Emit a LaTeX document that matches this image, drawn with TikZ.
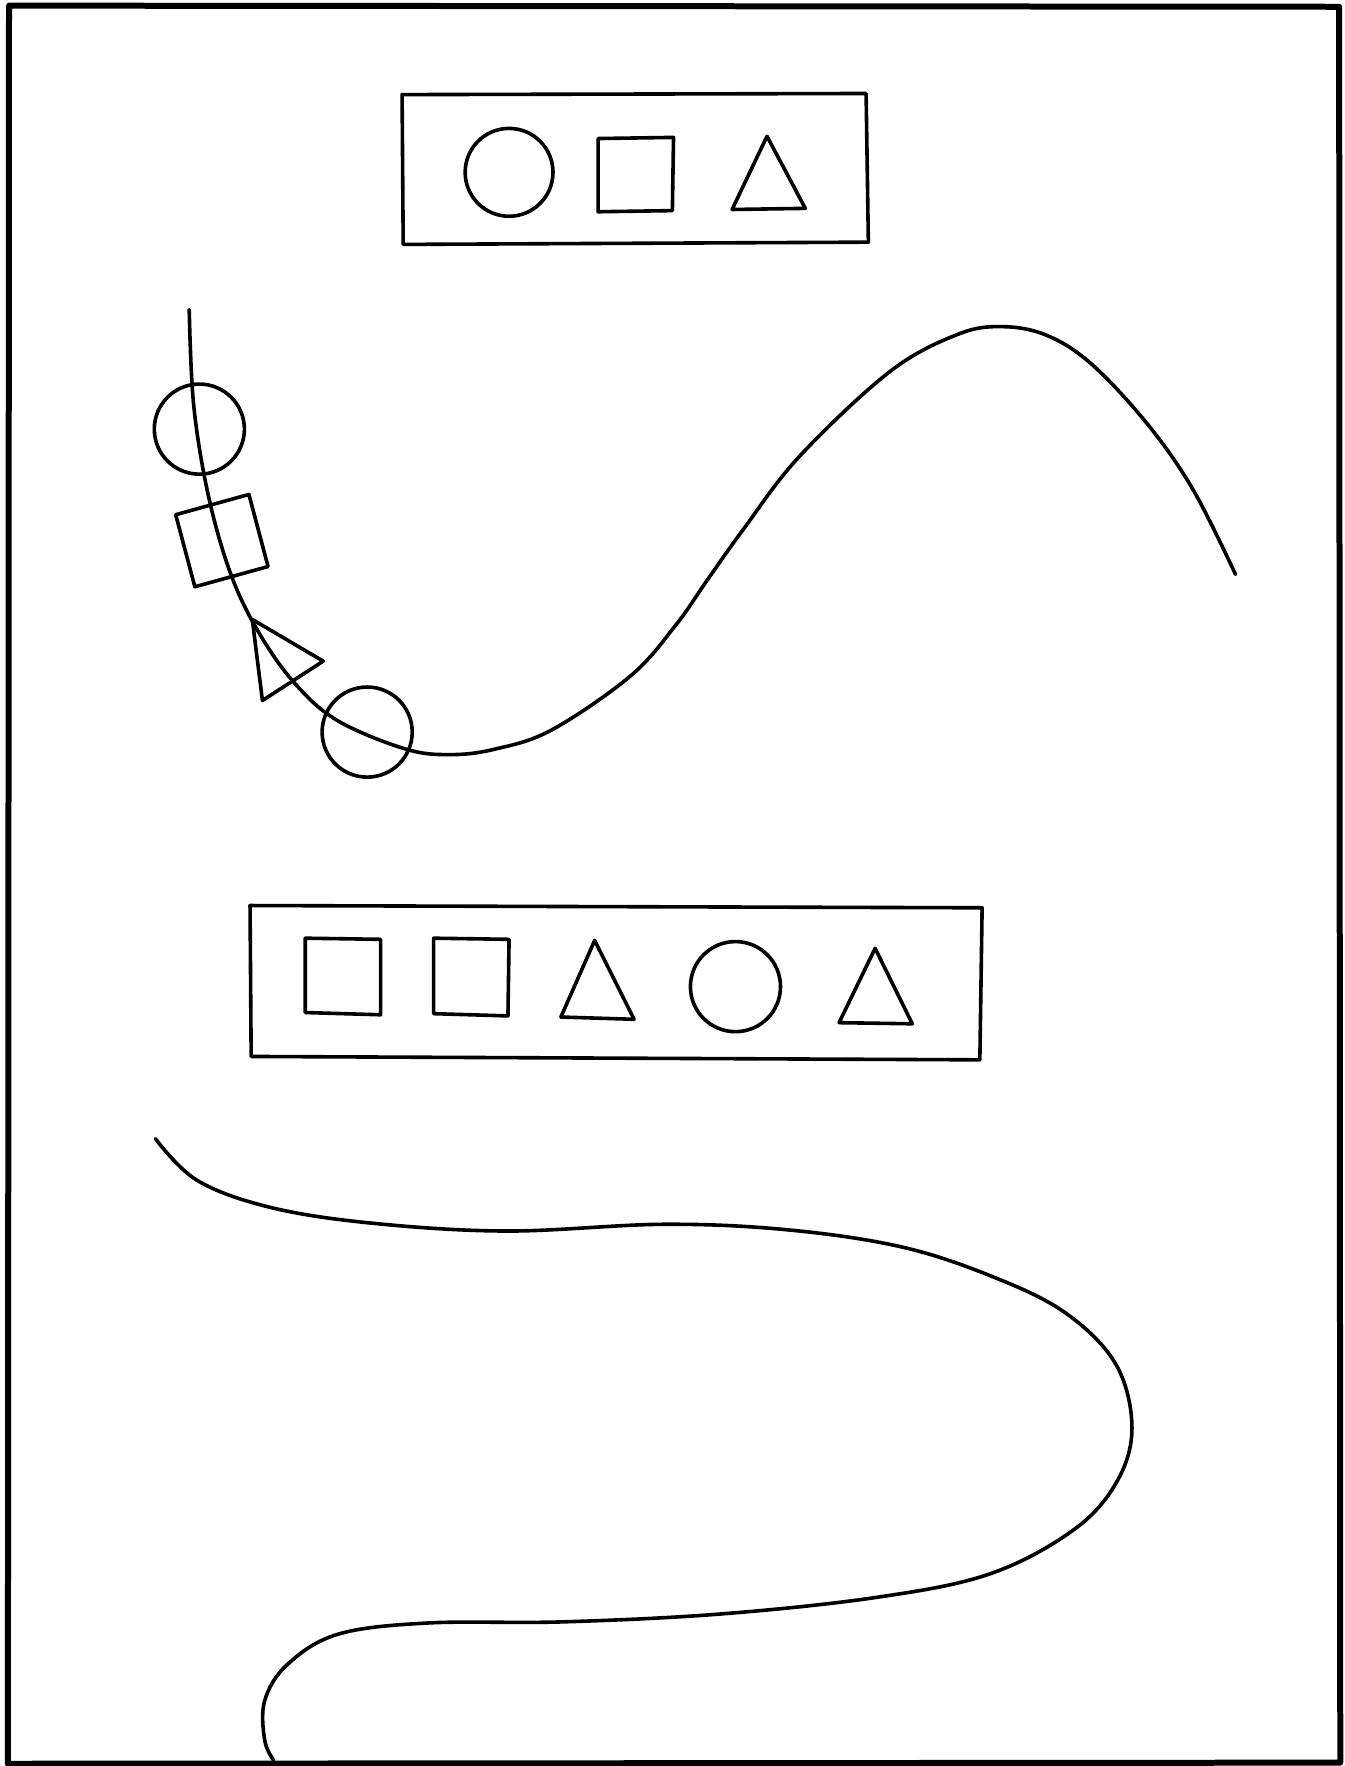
\documentclass[tikz,border=0pt]{standalone}
\begin{document}
\begin{tikzpicture}[x=1.1265pt,y=-1.1265pt,line join=round,line cap=round,
  ln/.style={line width=3.6pt},
  frame/.style={line width=6pt}]
\useasboundingbox (0,0) rectangle (1194,1568);
\fill[white] (0,0) rectangle (1194,1568);
\draw[frame] (8,5) -- (1189,6) -- (1190,1565) -- (7,1566) -- cycle;
% top box
\draw[ln] (357,84) -- (769,83) -- (771,215) -- (358,217) -- cycle;
\draw[ln] (452,153) circle[radius=39];
\draw[ln] (531,123) -- (598,122) -- (597,187) -- (531,188) -- cycle;
\draw[ln] (681,121) -- (715,185) -- (650,186) -- cycle;
% curve 1
\draw[ln] plot[smooth,tension=0.6] coordinates {(168,275) (172,360) (185,440) (205,510) (230,562) (262,607) (300,640) (360,665) (400,670) (440,665) (490,648) (560,600) (600,555) (628,515) (660,470) (710,405) (790,330) (850,297) (890,290) (930,298) (970,324) (1020,378) (1060,436) (1097,510)};
\draw[ln] (177,381) circle[radius=40];
\draw[ln] (156,457) -- (221,439) -- (238,503) -- (173,521) -- cycle;
\draw[ln] (224,550) -- (287,587) -- (233,622) -- cycle;
\draw[ln] (326,650) circle[radius=40];
% bottom box
\draw[ln] (222,804) -- (872,806) -- (870,941) -- (223,938) -- cycle;
\draw[ln] (271,833) -- (338,834) -- (338,901) -- (271,899) -- cycle;
\draw[ln] (385,833) -- (452,834) -- (451,902) -- (385,900) -- cycle;
\draw[ln] (528,835) -- (563,905) -- (498,903) -- cycle;
\draw[ln] (653,876) circle[radius=40];
\draw[ln] (777,842) -- (810,909) -- (745,908) -- cycle;
% curve 2
\draw[ln] plot[smooth,tension=0.6] coordinates {(138,1011) (175,1048) (240,1072) (330,1086) (450,1093) (590,1087) (700,1092) (800,1107) (880,1133) (945,1165) (990,1210) (1005,1265) (993,1313) (955,1357) (880,1397) (780,1418) (640,1433) (500,1440) (380,1441) (300,1451) (255,1478) (235,1510) (235,1545) (243,1563)};
\end{tikzpicture}
\end{document}
